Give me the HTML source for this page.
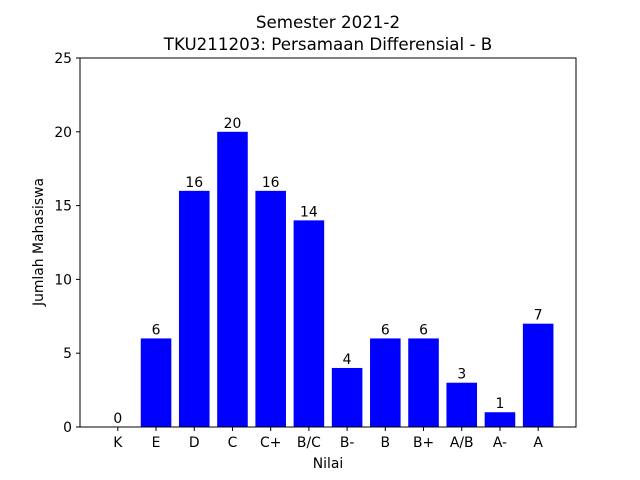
<!DOCTYPE html>
<html><head><meta charset="utf-8"><style>
body{margin:0;background:#fff;}
svg{display:block;font-family:"DejaVu Sans","Liberation Sans",sans-serif;}
</style></head><body>
<svg id="chart" width="640" height="480">
<rect width="640" height="480" fill="#fff"/>
<text x="328" y="28" font-size="16.7" text-anchor="middle">Semester 2021-2</text>
<text x="328" y="50" font-size="16.7" text-anchor="middle">TKU211203: Persamaan Differensial - B</text>
<g id="bars"></g>
<g id="yticks"></g>
<g id="xticks"></g>
<rect x="80" y="58" width="496" height="369" fill="none" stroke="#000" stroke-width="1"/>
<text x="328" y="468" font-size="13.9" text-anchor="middle">Nilai</text>
<text transform="translate(43,242) rotate(-90)" font-size="13.9" text-anchor="middle">Jumlah Mahasiswa</text>
</svg>
<script>
const categories=["K","E","D","C","C+","B/C","B-","B","B+","A/B","A-","A"];
const values=[0,6,16,20,16,14,4,6,6,3,1,7];
const yTicks=[0,5,10,15,20,25];
const L=80,R=576,T=58,B=427,yMax=25,xMin=-0.99,xMax=11.99;
const xs=i=>L+(i-xMin)/(xMax-xMin)*(R-L);
const ys=v=>B-v/yMax*(B-T);
const ns="http://www.w3.org/2000/svg";
const bars=document.getElementById('bars'),yt=document.getElementById('yticks'),xt=document.getElementById('xticks');
function mk(tag,attrs,parent){const e=document.createElementNS(ns,tag);for(const k in attrs)e.setAttribute(k,attrs[k]);parent.appendChild(e);return e;}
const bw=0.8*(R-L)/(xMax-xMin);
categories.forEach((c,i)=>{
  const v=values[i];
  const r=mk('rect',{x:xs(i)-bw/2,y:ys(v),width:bw,height:B-ys(v),fill:'#0000ff'},bars);
  
  
  const t=mk('text',{x:xs(i),y:ys(v)-4,'font-size':13.9,'text-anchor':'middle'},bars);
  t.textContent=v;
  
  
  const tk=mk('line',{x1:xs(i),x2:xs(i),y1:B,y2:B+4,stroke:'#000'},xt);
  
  
  const lb=mk('text',{x:xs(i),y:B+20,'font-size':13.9,'text-anchor':'middle'},xt);
  lb.textContent=c;
  
  
});
yTicks.forEach(v=>{
  const tk=mk('line',{x1:L-4,x2:L,y1:ys(v),y2:ys(v),stroke:'#000'},yt);
  
  
  const lb=mk('text',{x:L-8,y:ys(v)+5,'font-size':13.9,'text-anchor':'end'},yt);
  lb.textContent=v;
  
  
});
</script>
</body></html>
